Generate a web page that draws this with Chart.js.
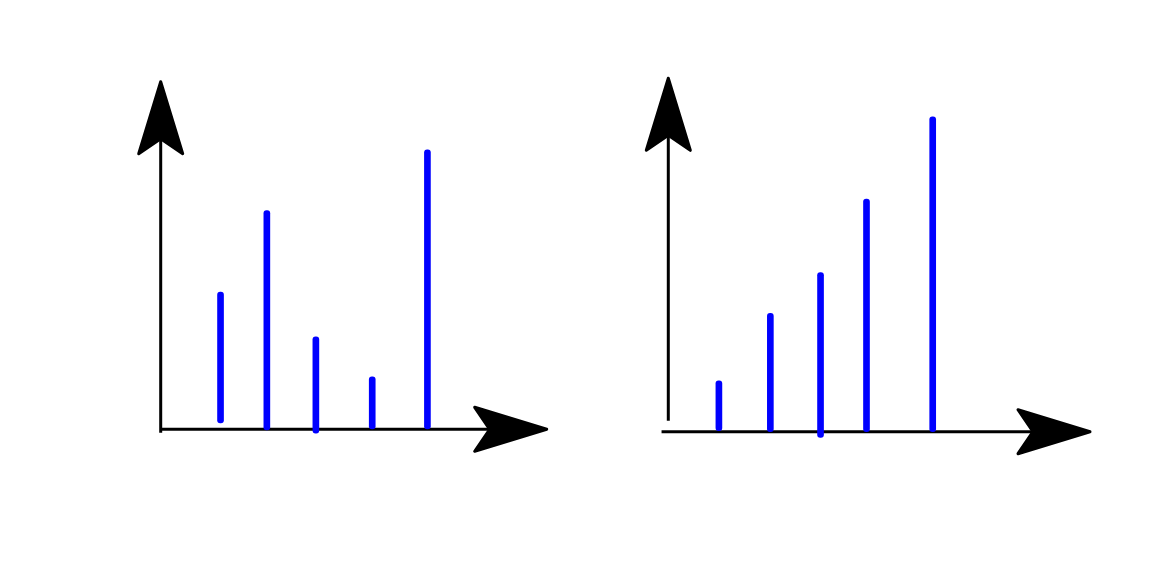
<!DOCTYPE html>
<html>
<head>
<meta charset="utf-8">
<script src="https://cdn.jsdelivr.net/npm/chart.js@4.4.1/dist/chart.umd.min.js"></script>
<style>
    body { margin: 0; background: #fff; }
    .panel { position: absolute; top: 0; width: 585px; height: 565px; }
</style>
</head>
<body>
<div class="panel" style="left:0"><canvas id="chartIzq"></canvas></div>
<div class="panel" style="left:585px"><canvas id="chartDer"></canvas></div>
<script>
// Datos gráfico izquierdo
const posIzq = [1.55, 2.75, 4.02, 5.48, 6.91];
const baseIzq = [0.18, -0.02, -0.11, 0.01, 0.01];
const altoIzq = [3.95, 6.29, 2.66, 1.51, 8.04];

// Datos gráfico derecho
const posDer = [1.2, 2.42, 3.61, 4.7, 6.27];
const baseDer = [0.03, 0.0, -0.16, 0.0, 0.0];
const altoDer = [1.44, 3.35, 4.5, 6.58, 8.91];

// Inicio de cada eje (en unidades del gráfico)
const ejesIzq = { xDesde: 0, yDesde: -0.1 };
const ejesDer = { xDesde: -0.16, yDesde: 0.31 };

// Dibuja los ejes con flechas
const flechas = {
    id: "flechas",
    beforeDatasetsDraw(chart, args, opts) {
        const { ctx, scales: { x, y } } = chart;
        const ox = x.getPixelForValue(0);
        const oy = y.getPixelForValue(0);
        const finX = x.getPixelForValue(x.max);
        const finY = y.getPixelForValue(y.max);
        const largo = 72, ancho = 22, muesca = 57;

        ctx.save();
        ctx.strokeStyle = "#000";
        ctx.fillStyle = "#000";
        ctx.lineWidth = 3;
        ctx.lineJoin = "round";

        // eje x
        ctx.beginPath();
        ctx.moveTo(x.getPixelForValue(opts.xDesde), oy);
        ctx.lineTo(finX - muesca, oy);
        ctx.stroke();
        ctx.beginPath();
        ctx.moveTo(finX, oy);
        ctx.lineTo(finX - largo, oy - ancho);
        ctx.lineTo(finX - muesca, oy);
        ctx.lineTo(finX - largo, oy + ancho);
        ctx.closePath();
        ctx.fill();
        ctx.stroke();

        // eje y
        ctx.beginPath();
        ctx.moveTo(ox, y.getPixelForValue(opts.yDesde));
        ctx.lineTo(ox, finY + muesca);
        ctx.stroke();
        ctx.beginPath();
        ctx.moveTo(ox, finY);
        ctx.lineTo(ox - ancho, finY + largo);
        ctx.lineTo(ox, finY + muesca);
        ctx.lineTo(ox + ancho, finY + largo);
        ctx.closePath();
        ctx.fill();
        ctx.stroke();
        ctx.restore();
    },
};

function crearGrafico(id, pos, base, alto, ejes, padding) {
    return new Chart(document.getElementById(id), {
        type: "bar",
        data: {
            datasets: [
                {
                    data: pos.map((v, i) => ({ x: v, y: [base[i], alto[i]] })),
                    backgroundColor: "#0000ff",
                    barThickness: 6,
                    borderRadius: 3,
                    borderSkipped: false,
                    clip: false,
                },
            ],
        },
        options: {
            responsive: true,
            maintainAspectRatio: false,
            animation: false,
            layout: { padding: padding },
            plugins: {
                legend: { display: false },
                tooltip: { enabled: false },
                flechas: ejes,
            },
            scales: {
                x: { type: "linear", min: 0, max: 10, offset: false, display: false },
                y: { type: "linear", min: 0, max: 10, display: false },
            },
        },
        plugins: [flechas],
    });
}

crearGrafico("chartIzq", posIzq, baseIzq, altoIzq, ejesIzq,
    { left: 160.7, right: 38.3, top: 81.7, bottom: 135.7 });
crearGrafico("chartDer", posDer, baseDer, altoDer, ejesDer,
    { left: 83.3, right: 80, top: 78.3, bottom: 133.3 });
</script>
</body>
</html>
